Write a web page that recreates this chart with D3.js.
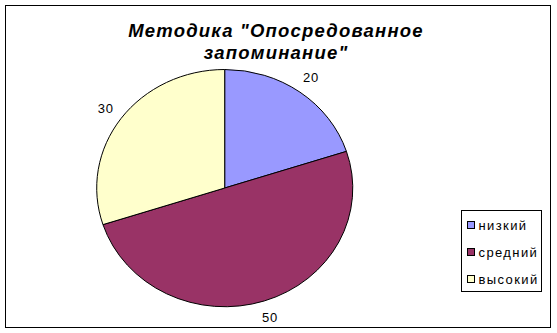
<!DOCTYPE html>
<html>
<head>
<meta charset="utf-8">
<script src="https://cdn.jsdelivr.net/npm/d3@7"></script>
<style>
  body { margin: 0; background: #fff; }
  svg { display: block; font-family: "Liberation Sans", Arial, sans-serif; }
</style>
</head>
<body>
<div id="chart"></div>
<script>
var titleLines = ["Методика \"Опосредованное", "запоминание\""];
var categories = ["низкий", "средний", "высокий"];
var values = [20, 50, 30];
var colors = ["#9999ff", "#993366", "#ffffcc"];

var width = 557;
var height = 333;
var cx = 224.7, cy = 188;
var rx = 128, ry = 118.5;
var labelRadius = 147;

var data = categories.map(function(c, i) {
  return { key: c, value: values[i], color: colors[i] };
});

var svg = d3.select("#chart").append("svg")
  .attr("width", width)
  .attr("height", height);

// outer frame
svg.append("rect")
  .attr("x", 5.5).attr("y", 5.5)
  .attr("width", 545).attr("height", 322)
  .attr("fill", "#fff")
  .attr("stroke", "#000")
  .attr("stroke-width", 1);

// title
svg.append("text")
  .attr("x", 276)
  .attr("text-anchor", "middle")
  .attr("font-size", 18.5)
  .attr("font-weight", "bold")
  .attr("font-style", "italic")
  .attr("letter-spacing", 1.2)
  .selectAll("tspan")
  .data(titleLines)
  .enter().append("tspan")
  .attr("x", 276)
  .attr("y", function(d, i) { return 37 + i * 22; })
  .text(function(d) { return d; });

var pie = d3.pie().sort(null).value(function(d) { return d.value; });
var arcs = pie(data);
var arc = d3.arc().innerRadius(0).outerRadius(rx);

// Excel pies come out slightly squashed, so scale the y axis
var g = svg.append("g")
  .attr("transform", "translate(" + cx + "," + cy + ") scale(1," + (ry / rx) + ")");

g.selectAll(".slice")
  .data(arcs)
  .enter().append("path")
  .attr("class", "slice")
  .attr("d", arc)
  .attr("fill", function(d) { return d.data.color; })
  .attr("stroke", "#000")
  .attr("stroke-width", 1)
  .attr("vector-effect", "non-scaling-stroke");

var labelArc = d3.arc().innerRadius(labelRadius).outerRadius(labelRadius);

svg.selectAll(".label")
  .data(arcs)
  .enter().append("text")
  .attr("class", "label")
  .attr("x", function(d) { return cx + labelArc.centroid(d)[0]; })
  .attr("y", function(d) { return cy + labelArc.centroid(d)[1] * ry / rx; })
  .attr("text-anchor", "middle")
  .attr("dominant-baseline", "central")
  .attr("font-size", 13)
  .attr("letter-spacing", 0.8)
  .text(function(d) { return d.data.value; });

// legend
var legend = svg.append("g").attr("transform", "translate(461,210)");
legend.append("rect")
  .attr("x", 0.5).attr("y", 0.5)
  .attr("width", 80).attr("height", 81)
  .attr("fill", "#fff")
  .attr("stroke", "#000");

var items = legend.selectAll(".item")
  .data(data)
  .enter().append("g")
  .attr("class", "item")
  .attr("transform", function(d, i) { return "translate(6," + (15 + i * 27) + ")"; });

items.append("rect")
  .attr("x", 0.5).attr("y", -3.5)
  .attr("width", 7).attr("height", 7)
  .attr("fill", function(d) { return d.color; })
  .attr("stroke", "#000");

items.append("text")
  .attr("x", 11.5)
  .attr("dominant-baseline", "central")
  .attr("font-size", 13)
  .attr("letter-spacing", 1.4)
  .text(function(d) { return d.key; });
</script>
</body>
</html>
